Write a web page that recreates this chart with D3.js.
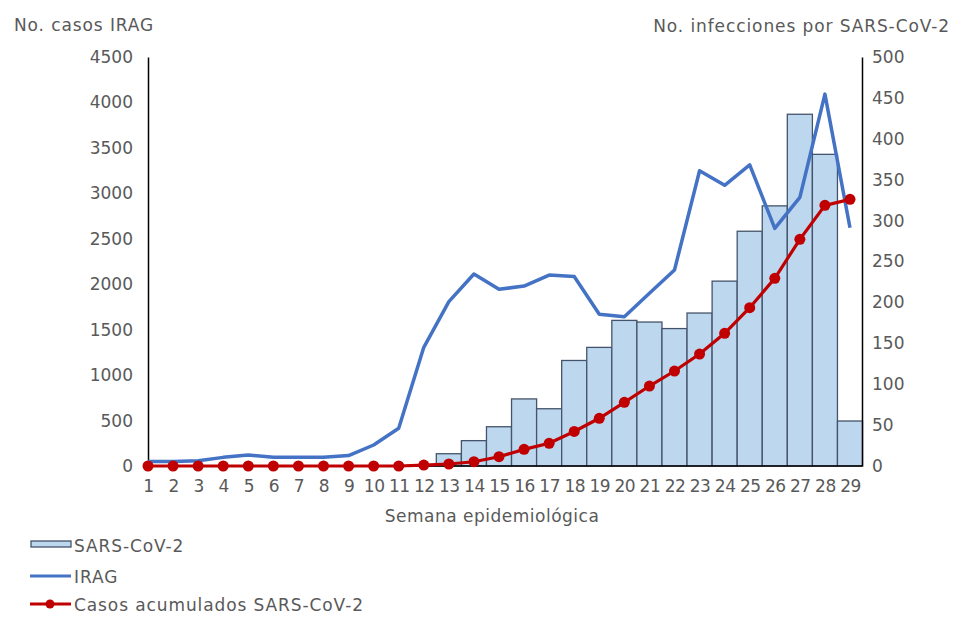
<!DOCTYPE html>
<html><head><meta charset="utf-8">
<script src="https://cdn.jsdelivr.net/npm/d3@7"></script>
<style>body{margin:0;background:#fff}text{font-family:"DejaVu Sans",Verdana,sans-serif}</style>
</head><body><svg id="c" width="955" height="625"></svg>
<script>
const weeks = d3.range(1, 30);
const sarsWeekly = [0,0,0,0,0,0,0,0,0,0,0,1,15,31,48,82,70,129,145,178,176,168,187,226,287,318,430,381,55];
const irag = [50,50,58,95,121,95,95,95,115,231,415,1306,1808,2112,1944,1980,2101,2085,1669,1643,1900,2156,3248,3088,3314,2615,2956,4092,2621];
const cumulative = [0,0,0,0,0,0,0,0,0,0,0,10,22,47,102,183,250,380,525,701,880,1045,1232,1460,1742,2065,2494,2868,2934];
const leftTicks = [0,500,1000,1500,2000,2500,3000,3500,4000,4500];
const rightTicks = [0,50,100,150,200,250,300,350,400,450,500];

const svg = d3.select("#c");
const txt = "#595959";
const FONT = "'DejaVu Sans', Verdana, sans-serif";
const FS = "17px";
const x = d3.scaleLinear().domain([1, 29]).range([148, 850]);
const bw = x(2) - x(1);
const yL = d3.scaleLinear().domain([0, 4500]).range([466, 57]);
const yR = d3.scaleLinear().domain([0, 500]).range([466, 57]);

// bars
svg.append("g").selectAll("rect").data(weeks).join("rect")
  .attr("x", d => x(d) - bw/2).attr("width", bw)
  .attr("y", (d,i) => yR(sarsWeekly[i])).attr("height", (d,i) => yR(0) - yR(sarsWeekly[i]))
  .attr("fill", "#bdd7ee").attr("stroke", "#44546a").attr("stroke-width", 1.3);

// axes
const axL = svg.append("g").attr("transform","translate(148,0)")
  .call(d3.axisLeft(yL).tickValues(leftTicks).tickSize(0).tickPadding(15).tickFormat(d3.format("d")));
const axR = svg.append("g").attr("transform","translate(862,0)")
  .call(d3.axisRight(yR).tickValues(rightTicks).tickSize(0).tickPadding(10).tickFormat(d3.format("d")));
const axB = svg.append("g").attr("transform","translate(0,466)")
  .call(d3.axisBottom(x).tickValues(weeks).tickSize(0).tickPadding(14).tickFormat(d3.format("d")));
axB.select(".domain").attr("d","M148,0H862");
[axL, axR, axB].forEach(a => {
  a.attr("font-family", FONT);
  a.select(".domain").attr("stroke","#000").attr("stroke-width",1.5);
  a.selectAll("text").attr("fill", txt).style("font-size",FS).style("font-family",FONT);
});
axB.selectAll("text").attr("letter-spacing","-0.5px");

// IRAG line
svg.append("path").datum(irag)
  .attr("d", d3.line().x((d,i) => x(weeks[i])).y(d => yL(d)))
  .attr("fill","none").attr("stroke","#4472c4").attr("stroke-width",3.5).attr("stroke-linejoin","round");

// cumulative line
svg.append("path").datum(cumulative)
  .attr("d", d3.line().x((d,i) => x(weeks[i])).y(d => yL(d)))
  .attr("fill","none").attr("stroke","#c00000").attr("stroke-width",3.2);
svg.append("g").selectAll("circle").data(cumulative).join("circle")
  .attr("cx",(d,i)=>x(weeks[i])).attr("cy",d=>yL(d)).attr("r",5.5).attr("fill","#c00000");

function label(xp, yp, s, anchor, ls) {
  svg.append("text").attr("x",xp).attr("y",yp).attr("text-anchor",anchor||"start")
    .attr("letter-spacing", (ls == null ? 0.9 : ls) + "px")
    .attr("fill",txt).style("font-size",FS).style("font-family",FONT).text(s);
}
// titles
label(14, 31, "No. casos IRAG");
label(950, 32, "No. infecciones por SARS-CoV-2", "end");
label(492, 522, "Semana epidemiológica", "middle", 0.5);

// legend
svg.append("rect").attr("x",31).attr("y",541).attr("width",40).attr("height",6).attr("fill","#bdd7ee").attr("stroke","#44546a").attr("stroke-width",1.3);
label(74, 552, "SARS-CoV-2");
svg.append("line").attr("x1",30).attr("x2",71).attr("y1",576).attr("y2",576).attr("stroke","#4472c4").attr("stroke-width",3);
label(74, 583, "IRAG");
svg.append("line").attr("x1",30).attr("x2",71).attr("y1",604).attr("y2",604).attr("stroke","#c00000").attr("stroke-width",3);
svg.append("circle").attr("cx",50).attr("cy",604).attr("r",4.5).attr("fill","#c00000");
label(74, 611, "Casos acumulados SARS-CoV-2");
</script></body></html>
